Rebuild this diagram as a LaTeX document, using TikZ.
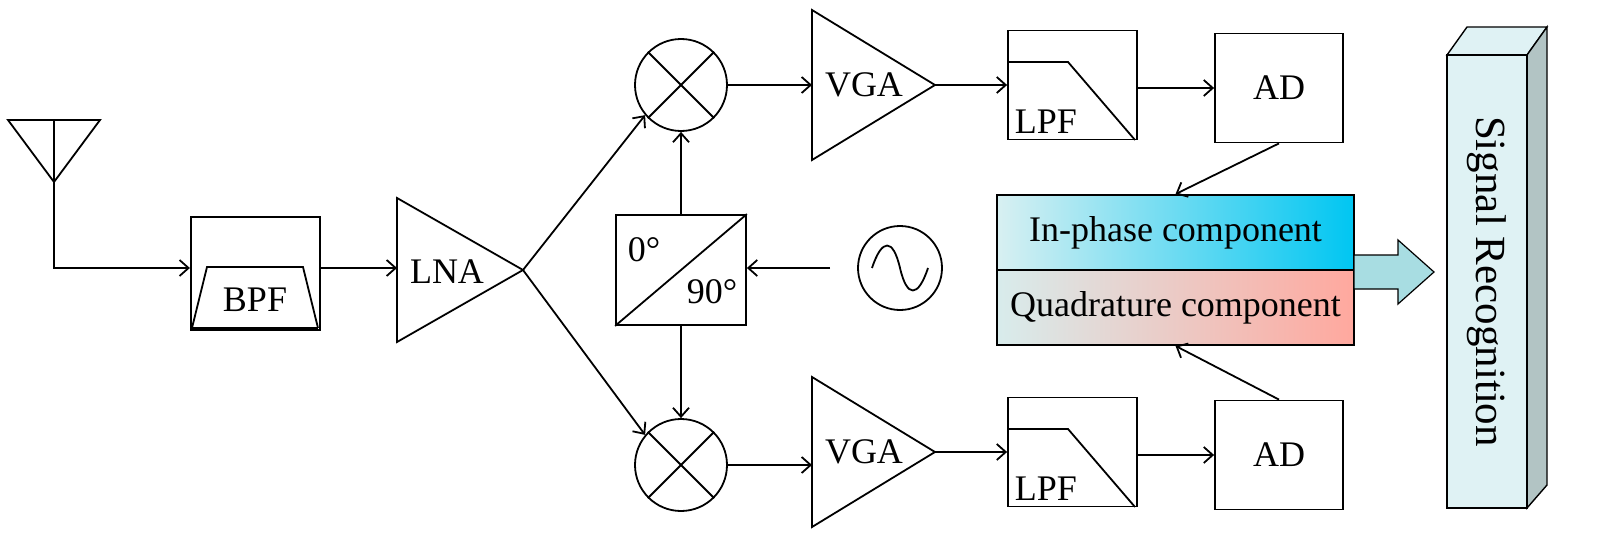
\documentclass[tikz,border=0pt]{standalone}
\usepackage{fontspec}
\setmainfont{Liberation Serif}
\usetikzlibrary{arrows.meta}
\definecolor{sidec}{HTML}{B2C4C4}
\definecolor{frontc}{HTML}{DFF2F4}
\definecolor{barrow}{HTML}{A8DDE2}
\definecolor{ipl}{HTML}{D8F0F2}
\definecolor{ipr}{HTML}{00C6F2}
\definecolor{qdl}{HTML}{D8ECEC}
\definecolor{qdr}{HTML}{FFA89E}
\begin{document}
\begin{tikzpicture}[x=1pt,y=-1pt,line width=1.8pt,
  arr/.style={-{Straight Barb[length=9pt,width=16pt,line width=1.8pt]}},
  box/.style={draw,line width=2.2pt,inner sep=0pt},
  lbl/.style={font=\fontsize{36}{40}\selectfont,inner sep=0pt}]
\useasboundingbox (0,0) rectangle (1598,543);
% antenna
\draw (8,120) -- (100,120) -- (54,182) -- cycle;
\coordinate (ant) at (54,120);
\coordinate (antc) at (54,268);
% BPF
\node[box,minimum width=129pt,minimum height=113pt] (bpf) at (255.5,273.5) {};
\draw (192,328) -- (207,267) -- (303,267) -- (318,328);
\draw[line width=3pt] (192,328) -- (318,328);
\node[lbl] (bpft) at (255,300) {BPF};
\draw[arr] (ant) -- (antc) -- (bpf.west|-antc);
% LNA
\draw (397,198) -- (523,270) -- (397,342) -- cycle;
\coordinate (lnain) at (397,268);
\coordinate (lnaout) at (523,270);
\node[lbl] (lnat) at (447,272) {LNA};
\draw[arr] (bpf.east|-antc) -- (lnain);
% mixers
\foreach \n/\y in {m1/85,m2/465}{
  \node[draw,circle,minimum size=92pt,inner sep=0pt] (\n) at (681,\y) {};
  \draw (\n.45) -- (\n.225) (\n.135) -- (\n.315);
}
\draw[arr] (lnaout) -- (m1.220);
\draw[arr] (lnaout) -- (m2.140);
% phase shifter
\node[draw,minimum width=130pt,minimum height=110pt,inner sep=0pt] (ps) at (681,270) {};
\draw (ps.south west) -- (ps.north east);
\node[lbl] (p0) at (644,250) {0°};
\node[lbl] (p90) at (712,292) {90°};
\draw[arr] (ps.north) -- (ps.north|-m1.south);
\draw[arr] (ps.south) -- (ps.south|-m2.north);
% oscillator
\node[draw,circle,minimum size=84pt,inner sep=0pt] (osc) at (900,268) {};
\draw (872,268) .. controls (882,238) and (893,238) .. (900,268) .. controls (907,298) and (918,298) .. (928,268);
\coordinate (oscin) at (830,268);
\draw[arr] (oscin) -- (oscin-|ps.east);
% channels
\foreach \t/\yc/\m/\yl/\ya in {1/85/m1/85/88, 2/452/m2/465/455}{
  \draw (812,\yc-75) -- (935,\yc) -- (812,\yc+75) -- cycle;
  \coordinate (vin\t) at (812,\yl);
  \coordinate (vout\t) at (935,\yc);
  \node[lbl] (vt\t) at (864,\yc) {VGA};
  \draw[arr] (\m.east) -- (vin\t);
  \node[draw,minimum width=129pt,minimum height=109pt,inner sep=0pt] (lpf\t) at (1072.5,\yc) {};
  \draw (1008,\yc-23) -- (1068,\yc-23) -- (1135,\yc+55);
  \node[lbl,anchor=base west] (lt\t) at (1014,\yc+48) {LPF};
  \draw[arr] (vout\t) -- (lpf\t.west|-vout\t);
  \node[draw,minimum width=128pt,minimum height=109pt,inner sep=0pt,lbl] (ad\t) at (1279,\ya) {AD};
  \draw[arr] (lpf\t.east|-ad\t.west) -- (ad\t.west);
}
% IQ box
\shade[left color=ipl,right color=ipr] (997,195) rectangle (1354,270);
\shade[left color=qdl,right color=qdr] (997,270) rectangle (1354,345);
\node[draw,minimum width=357pt,minimum height=75pt,inner sep=0pt,lbl] (ip) at (1175.5,232.5) {In-phase component};
\node[draw,minimum width=357pt,minimum height=75pt,inner sep=0pt,lbl] (qd) at (1175.5,307.5) {Quadrature component};
\draw[arr] (ad1.south) -- (ip.north);
\draw[arr] (ad2.north) -- (qd.south);
% big arrow
\draw[fill=barrow,line width=1.2pt] (1354,255) -- (1398,255) -- (1398,240) -- (1434,272) -- (1398,304) -- (1398,289) -- (1354,289) -- cycle;
% signal recognition bar
\draw[fill=frontc,line width=1.4pt] (1447,55) -- (1467,27) -- (1547,27) -- (1527,55) -- cycle;
\draw[fill=sidec,line width=1.4pt] (1527,55) -- (1547,27) -- (1547,485) -- (1527,508) -- cycle;
\node[draw,fill=frontc,line width=1.4pt,minimum width=80pt,minimum height=453pt,inner sep=0pt] (sr) at (1487,281.5) {};
\node[lbl,rotate=-90,font=\fontsize{43}{46}\selectfont] (srt) at (sr.center) {Signal Recognition};
\end{tikzpicture}
\end{document}
